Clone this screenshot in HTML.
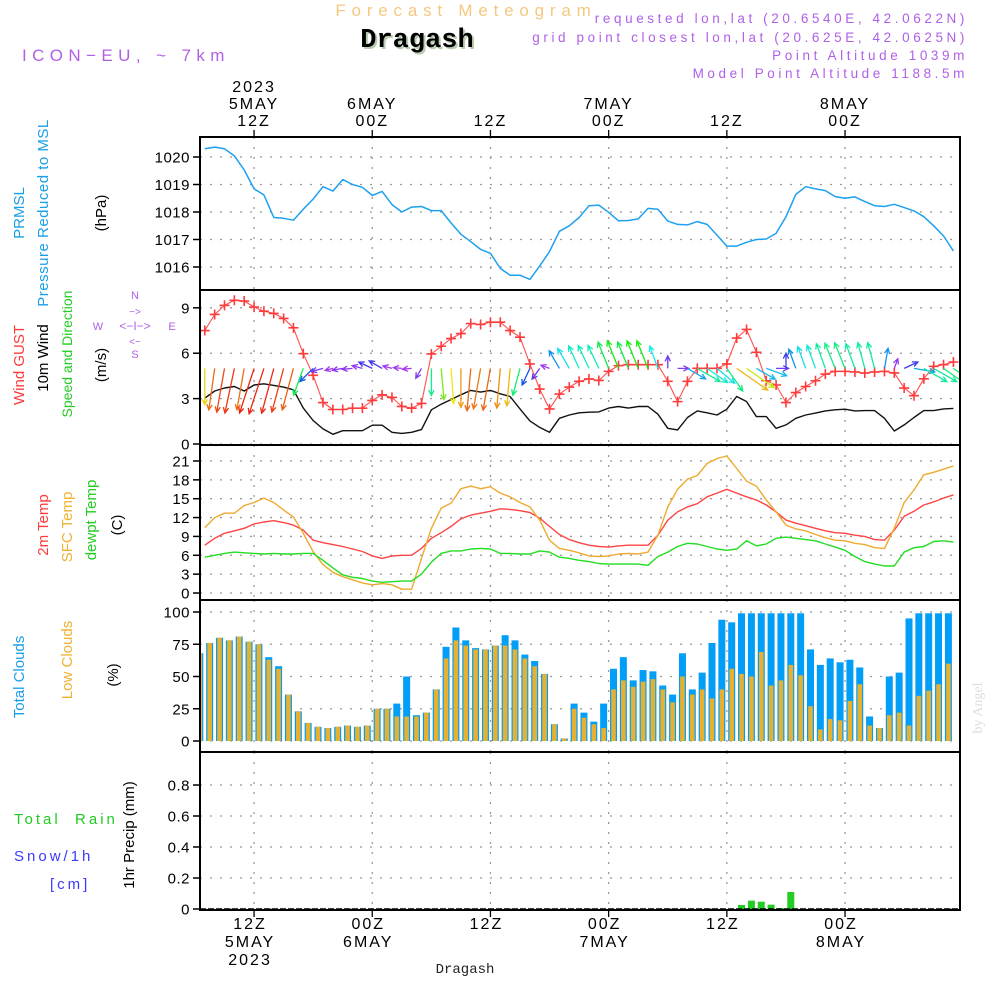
<!DOCTYPE html>
<html><head><meta charset="utf-8">
<style>
html,body{margin:0;padding:0;background:#fff;}
svg{display:block;font-family:"Liberation Sans",sans-serif;}
</style></head>
<body>
<svg id="chart" width="1000" height="1000" viewBox="0 0 1000 1000" xmlns="http://www.w3.org/2000/svg">
<text x="466" y="16" text-anchor="middle" font-size="17" letter-spacing="5.8" fill="#f4c880">Forecast Meteogram</text>
<text x="419" y="49" text-anchor="middle" font-family="Liberation Mono,monospace" font-weight="bold" font-size="27" fill="#b8ccb0">Dragash</text>
<text x="417" y="47" text-anchor="middle" font-family="Liberation Mono,monospace" font-weight="bold" font-size="27" fill="#000">Dragash</text>
<text x="22" y="61" font-size="17" letter-spacing="5.4" fill="#b060e8">ICON−EU, ~ 7km</text>
<g font-size="13.5" letter-spacing="3.6" fill="#b060e8" text-anchor="end">
<text x="968" y="23">requested lon,lat (20.6540E, 42.0622N)</text>
<text x="968" y="42">grid point closest lon,lat (20.625E, 42.0625N)</text>
<text x="968" y="60">Point Altitude 1039m</text>
<text x="968" y="78">Model Point Altitude 1188.5m</text>
</g>
<text transform="translate(982,708) rotate(-90)" text-anchor="middle" font-family="Liberation Serif,serif" font-size="14" fill="#dddddd">by Angel</text>
<text x="465" y="973" text-anchor="middle" font-family="Liberation Mono,monospace" font-size="14" fill="#222">Dragash</text>

<g font-size="15">
<text transform="translate(24,213) rotate(-90)" text-anchor="middle" fill="#1a9ee8">PRMSL</text>
<text transform="translate(48,213) rotate(-90)" text-anchor="middle" fill="#1a9ee8" letter-spacing="0.5">Pressure Reduced to MSL</text>
<text transform="translate(106,213) rotate(-90)" text-anchor="middle" fill="#000">(hPa)</text>
<text transform="translate(24,365) rotate(-90)" text-anchor="middle" fill="#ff3a3a">Wind GUST</text>
<text transform="translate(48,358) rotate(-90)" text-anchor="middle" fill="#000">10m Wind</text>
<text transform="translate(72,354) rotate(-90)" text-anchor="middle" fill="#22cc22" font-size="14">Speed and Direction</text>
<text transform="translate(106,365) rotate(-90)" text-anchor="middle" fill="#000">(m/s)</text>
<text transform="translate(48,525) rotate(-90)" text-anchor="middle" fill="#ff3a3a">2m Temp</text>
<text transform="translate(72,527) rotate(-90)" text-anchor="middle" fill="#f0b030">SFC Temp</text>
<text transform="translate(96,520) rotate(-90)" text-anchor="middle" fill="#22cc22">dewpt Temp</text>
<text transform="translate(122,525) rotate(-90)" text-anchor="middle" fill="#000">(C)</text>
<text transform="translate(24,677) rotate(-90)" text-anchor="middle" fill="#1a9ee8">Total Clouds</text>
<text transform="translate(72,660) rotate(-90)" text-anchor="middle" fill="#f0b030">Low Clouds</text>
<text transform="translate(118,675) rotate(-90)" text-anchor="middle" fill="#000">(%)</text>
<text transform="translate(134,835) rotate(-90)" text-anchor="middle" fill="#000">1hr Precip (mm)</text>
<text x="14" y="824" fill="#22cc22" letter-spacing="3" xml:space="preserve">Total  Rain</text>
<text x="14" y="861" fill="#3a3aff" letter-spacing="3">Snow/1h</text>
<text x="50" y="889" fill="#3a3aff" letter-spacing="3">[cm]</text>
</g>
<g font-size="11" fill="#b060e8" stroke="none">
<text x="135" y="299" text-anchor="middle">N</text>
<text x="135" y="358" text-anchor="middle">S</text>
<text x="98" y="330" text-anchor="middle">W</text>
<text x="172" y="330" text-anchor="middle">E</text>
<text x="135" y="330" text-anchor="middle" font-size="12">&lt;−I−&gt;</text>
<text x="135" y="315" text-anchor="middle" font-size="10">−&gt;</text>
<text x="135" y="345" text-anchor="middle" font-size="10">&lt;−</text>
</g>
<g id="plots"></g>
</svg>
<script>
// ---- data (hourly, 5 MAY 07Z .. 8 MAY 11Z) ----
const pressure = [1020.3,1020.36,1020.3,1020.04,1019.53,1018.84,1018.62,1017.8,1017.77,1017.7,1018.1,1018.47,1018.92,1018.76,1019.18,1019.0,1018.9,1018.6,1018.75,1018.27,1018.0,1018.18,1018.2,1018.05,1018.05,1017.6,1017.19,1016.92,1016.64,1016.5,1015.95,1015.7,1015.7,1015.55,1016.04,1016.56,1017.3,1017.5,1017.8,1018.23,1018.25,1017.99,1017.68,1017.69,1017.75,1018.13,1018.1,1017.67,1017.55,1017.53,1017.65,1017.55,1017.16,1016.76,1016.76,1016.9,1017.0,1017.02,1017.22,1017.83,1018.64,1018.92,1018.84,1018.78,1018.56,1018.5,1018.55,1018.38,1018.23,1018.2,1018.28,1018.16,1018.04,1017.83,1017.5,1017.13,1016.58];
const windGust = [7.5,8.56,9.16,9.5,9.45,9.05,8.78,8.63,8.3,7.68,5.97,4.54,2.74,2.28,2.28,2.37,2.37,2.88,3.25,3.08,2.48,2.37,2.68,5.95,6.46,6.97,7.3,7.96,7.9,8.05,8.05,7.5,7.06,5.29,3.63,2.32,3.3,3.76,4.14,4.3,4.2,4.8,5.18,5.24,5.24,5.24,5.24,4.14,2.8,4.14,5.0,5.0,5.0,5.29,7.0,7.57,6.06,4.18,3.9,2.74,3.4,3.8,4.18,4.62,4.8,4.8,4.76,4.69,4.76,4.8,4.7,3.7,3.19,4.31,5.13,5.24,5.42];
const wind10m = [3.03,3.5,3.7,3.8,3.5,3.9,3.98,3.87,3.76,3.58,2.37,1.55,1.0,0.64,0.88,0.88,0.88,1.24,1.24,0.77,0.7,0.77,0.95,2.26,2.63,2.94,3.25,3.54,3.43,3.54,3.32,3.14,2.32,1.53,1.1,0.77,1.7,1.92,2.06,2.1,2.12,2.37,2.48,2.37,2.48,2.48,1.97,1.04,0.93,1.75,2.19,2.06,1.92,2.3,3.14,2.81,1.81,1.81,1.04,1.26,1.7,1.92,2.04,2.19,2.26,2.3,2.19,2.21,2.21,1.7,0.86,1.26,1.75,2.21,2.21,2.32,2.35];
const windDir = [180,188,190,192,190,198,198,195,195,195,200,225,255,255,260,265,285,295,300,285,275,265,210,180,175,176,180,185,190,190,185,185,195,205,215,290,330,330,335,335,335,338,338,338,338,338,340,0,90,120,120,125,130,145,125,125,120,110,90,0,340,340,340,340,338,338,340,345,345,10,20,65,100,120,120,125,125];
const temp2m = [7.6,8.7,9.5,9.9,10.3,11.0,11.3,11.5,11.2,10.8,10.0,8.4,8.0,7.7,7.4,7.0,6.6,5.9,5.5,5.9,6.0,6.0,7.1,8.7,9.6,10.6,11.8,12.4,12.7,13.0,13.4,13.3,13.1,12.8,11.9,10.6,9.3,8.5,8.0,7.6,7.4,7.3,7.5,7.6,7.6,7.6,9.2,11.6,12.9,13.7,14.2,15.3,15.9,16.5,15.9,15.3,14.8,14.0,12.9,11.6,11.1,10.7,10.3,9.9,9.6,9.5,9.2,9.0,8.5,8.4,10.0,12.2,13.0,14.0,14.5,15.1,15.6];
const tempSfc = [10.4,12.0,12.7,12.7,13.9,14.4,15.1,14.4,13.2,12.1,9.5,6.6,4.5,3.3,2.6,2.1,1.6,1.3,1.5,1.3,0.6,0.6,5.5,10.3,13.5,14.3,16.6,17.0,16.6,16.9,15.9,15.3,14.4,13.7,11.6,8.4,7.1,6.8,6.4,5.9,5.8,5.9,6.2,6.3,6.2,6.5,9.2,13.7,16.5,18.1,18.7,20.6,21.4,21.8,19.8,17.8,17.0,14.8,12.9,10.8,10.2,9.9,9.3,8.8,8.4,8.3,7.9,7.7,7.2,7.1,10.3,14.4,16.4,18.8,19.2,19.7,20.2];
const dewpt = [5.7,6.0,6.3,6.5,6.4,6.3,6.2,6.3,6.2,6.2,6.3,6.3,5.2,4.0,2.9,2.5,2.3,1.9,1.7,1.8,1.9,1.9,3.0,4.9,6.3,6.7,6.7,7.0,7.1,7.0,6.3,6.3,6.2,6.2,6.7,6.5,5.7,5.5,5.2,5.0,4.7,4.6,4.6,4.6,4.6,4.4,5.8,6.5,7.4,7.9,7.8,7.4,7.0,6.8,7.0,8.3,7.5,7.8,8.7,8.9,8.7,8.5,8.3,7.8,7.3,6.8,5.8,5.0,4.6,4.3,4.3,6.5,7.2,7.4,8.2,8.3,8.1];
const totalClouds = [68,76,80,78,81,77,75,65,58,36,23,14,11,10,11,12,11,12,25,25,29,50,20,22,40,73,88,78,72,71,74,82,78,67,62,52,13,2,29,22,15,29,56,65,47,55,54,43,36,68,40,53,76,94,92,99,99,99,99,99,99,99,71,59,64,61,63,57,19,10,50,53,95,99,99,99,99];
const lowClouds = [68,76,80,78,81,77,75,63,56,36,23,14,11,10,11,12,11,12,25,25,19,19,19,22,40,64,78,74,71,71,74,74,71,64,58,52,13,2,25,18,13,10,40,47,42,46,48,40,30,50,36,40,33,40,56,52,50,69,43,47,59,51,27,9,17,16,31,44,12,10,20,22,12,35,39,44,60];
const precip = [0,0,0,0,0,0,0,0,0,0,0,0,0,0,0,0,0,0,0,0,0,0,0,0,0,0,0,0,0,0,0,0,0,0,0,0,0,0,0,0,0,0,0,0,0,0,0,0,0,0,0,0,0,0,0,0.026,0.054,0.047,0.028,0.006,0.11,0,0,0,0,0,0,0,0,0,0,0,0,0,0,0,0];
const pressureTicks = [1016,1017,1018,1019,1020];
const windTicks = [0,3,6,9];
const tempTicks = [0,3,6,9,12,15,18,21];
const cloudTicks = [0,25,50,75,100];
const precipTicks = [0,0.2,0.4,0.6,0.8];
const timeTickHours = [5,17,29,41,53,65];
const topTimeLabels = [["2023","5MAY","12Z"],["","6MAY","00Z"],["","","12Z"],["","7MAY","00Z"],["","","12Z"],["","8MAY","00Z"]];
const bottomTimeLabels = [["12Z","5MAY","2023"],["00Z","6MAY",""],["12Z","",""],["00Z","7MAY",""],["12Z","",""],["00Z","8MAY",""]];

// ---- axes ----
const NS="http://www.w3.org/2000/svg";
const X0=200, X1=960;
const xH = h => 204.8 + 9.85*h;
const yP = p => 157 + (1020-p)*27.5;
const yW = v => 444 - v*15.13;
const yT = t => 593 - t*6.286;
const yC = c => 741 - c*1.29;
const yR = r => 909 - r*155;
const panels = [
 {name:'pressure',top:137,bot:290,ticks:pressureTicks,y:yP},
 {name:'wind',top:290,bot:445,ticks:windTicks,y:yW},
 {name:'temperature',top:445,bot:600,ticks:tempTicks,y:yT},
 {name:'clouds',top:600,bot:752,ticks:cloudTicks,y:yC},
 {name:'precip',top:752,bot:910,ticks:precipTicks,y:yR}
];
const root=document.getElementById('plots');
function mk(tag,attrs,parent){const e=document.createElementNS(NS,tag);for(const k in attrs)e.setAttribute(k,attrs[k]);(parent||root).appendChild(e);return e;}
const defs=mk('defs',{});
panels.forEach((p,i)=>{
  const cp=mk('clipPath',{id:'clip'+i},defs);
  mk('rect',{x:X0,y:p.top,width:X1-X0,height:p.bot-p.top},cp);
  const g=mk('g',{});
  
  
  p.g=g;
  p.ticks.forEach(t=>{
    const y=p.y(t);
    const gl=mk('line',{x1:X0,x2:X1,y1:y,y2:y,stroke:'#999','stroke-width':1.3,'stroke-dasharray':'2 8'},g);
    
    
    mk('line',{x1:X0-7,x2:X0,y1:y,y2:y,stroke:'#000','stroke-width':1.5},g);
    const lb=mk('text',{x:X0-10,y:y+5.5,'text-anchor':'end','font-size':15,fill:'#000','letter-spacing':0.5},g);
    lb.textContent=(p.name==='precip'&&t!==0)?t.toFixed(1):String(t);
    
    
  });
  timeTickHours.forEach(h=>{
    const x=xH(h);
    mk('line',{x1:x,x2:x,y1:p.top,y2:p.bot,stroke:'#999','stroke-width':1.3,'stroke-dasharray':'2 8'},g);
  });
  p.clip=mk('g',{'clip-path':'url(#clip'+i+')'},g);
});
function line(p,data,yf,color,name,w){
  const pts=data.map((v,h)=>xH(h).toFixed(1)+','+yf(v).toFixed(1)).join(' ');
  const e=mk('polyline',{points:pts,fill:'none',stroke:color,'stroke-width':w||1.4,'stroke-linejoin':'round'},p.clip);
  
  
  return e;
}
line(panels[0],pressure,yP,'#1ea0f0','pressure-line',1.5);
line(panels[1],wind10m,yW,'#111','wind-10m-line',1.4);
line(panels[1],windGust,yW,'#ff5050','wind-gust-line',1.1);
windGust.forEach((v,h)=>{
  const x=xH(h),y=yW(v);
  const m=mk('path',{d:`M${x-5} ${y}H${x+5}M${x} ${y-5}V${y+5}`,stroke:'#ff3a3a','stroke-width':1.6},panels[1].clip);
  
  
});
function speedHue(s){
  const st=[[0.8,275],[1.5,225],[2.0,175],[2.3,150],[2.7,80],[3.0,55],[3.3,35],[3.9,5]];
  if(s<=st[0][0])return st[0][1];
  for(let i=1;i<st.length;i++){if(s<=st[i][0]){const a=st[i-1],b=st[i];return a[1]+(b[1]-a[1])*(s-a[0])/(b[0]-a[0]);}}
  return 5;
}
windDir.forEach((d,h)=>{
  const s=wind10m[h];
  const L=Math.max(8,s*12);
  const r=d*Math.PI/180;
  const x0=xH(h),y0=yW(5);
  const x1=x0+L*Math.sin(r),y1=y0-L*Math.cos(r);
  const ang=Math.atan2(y1-y0,x1-x0);
  const hl=6;
  const a1=ang+Math.PI-0.45,a2=ang+Math.PI+0.45;
  const col=`hsl(${speedHue(s).toFixed(0)},85%,${s<1.4?58:50}%)`;
  const e=mk('path',{d:`M${x0.toFixed(1)} ${y0.toFixed(1)}L${x1.toFixed(1)} ${y1.toFixed(1)}M${(x1+hl*Math.cos(a1)).toFixed(1)} ${(y1+hl*Math.sin(a1)).toFixed(1)}L${x1.toFixed(1)} ${y1.toFixed(1)}L${(x1+hl*Math.cos(a2)).toFixed(1)} ${(y1+hl*Math.sin(a2)).toFixed(1)}`,stroke:col,'stroke-width':1.3,fill:'none'},panels[1].clip);
  
  
});
line(panels[2],temp2m,yT,'#ff4444','temp-2m-line',1.4);
line(panels[2],tempSfc,yT,'#eeaa30','temp-sfc-line',1.4);
line(panels[2],dewpt,yT,'#22dd22','dewpoint-line',1.4);
totalClouds.forEach((c,h)=>{
  const x=xH(h)-5;
  const b=mk('rect',{x:x-3.5,y:yC(c),width:7,height:yC(0)-yC(c),fill:'#009ef7'},panels[3].clip);
  
  
});
lowClouds.forEach((c,h)=>{
  const x=xH(h)-5;
  const b=mk('rect',{x:x-2.3,y:yC(c),width:4.6,height:yC(0)-yC(c),fill:'#e8b030'},panels[3].clip);
  
  
});
precip.forEach((r,h)=>{
  if(r<=0)return;
  const x=xH(h)-5;
  const b=mk('rect',{x:x-3.5,y:yR(r),width:7,height:yR(0)-yR(r),fill:'#22cc22'},panels[4].clip);
  
  
});
mk('line',{x1:X0,x2:X1,y1:yR(0),y2:yR(0),stroke:'#000','stroke-width':1.6,'stroke-dasharray':'6 2'},panels[4].g);
panels.forEach(p=>{
  const r=mk('rect',{x:X0,y:p.top,width:X1-X0,height:p.bot-p.top,fill:'none',stroke:'#000','stroke-width':2},p.g);
  
  
});
timeTickHours.forEach((h,i)=>{
  const x=xH(h);
  mk('line',{x1:x,x2:x,y1:130,y2:137,stroke:'#000','stroke-width':1.3});
  mk('line',{x1:x,x2:x,y1:910,y2:917,stroke:'#000','stroke-width':1.3});
  topTimeLabels[i].forEach((s,j)=>{
    if(!s)return;
    const t=mk('text',{x:x,y:92+j*17,'text-anchor':'middle','font-size':16,fill:'#000','letter-spacing':2});
    t.textContent=s;
    
    
  });
  bottomTimeLabels[i].forEach((s,j)=>{
    if(!s)return;
    const t=mk('text',{x:x-4,y:929+j*18,'text-anchor':'middle','font-size':16,fill:'#000','letter-spacing':2});
    t.textContent=s;
    
    
  });
});
</script>
</body></html>
